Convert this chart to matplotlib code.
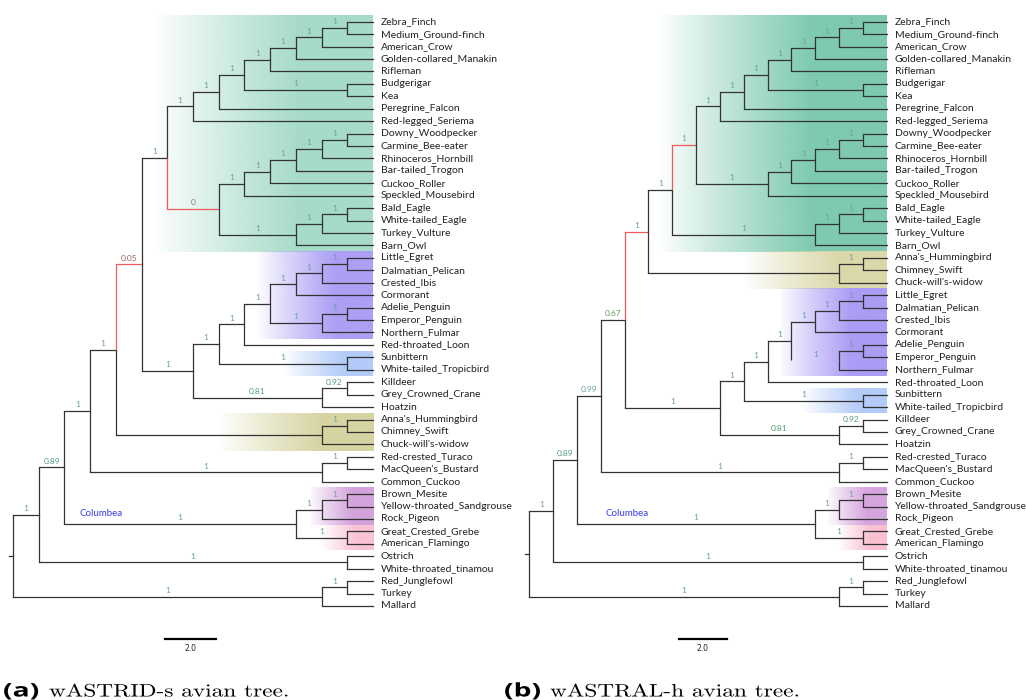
import numpy as np
import matplotlib
matplotlib.use("Agg")
import matplotlib.pyplot as plt
import matplotlib.transforms as mtransforms
from matplotlib.colors import LinearSegmentedColormap, to_rgb
from matplotlib.textpath import TextPath
from matplotlib.patches import PathPatch
from matplotlib.font_manager import FontProperties

# ---- trees (newick, internal labels = support) ----
aus = ("(((((((Zebra_Finch,Medium_Ground-finch)1,American_Crow)1,Golden-collared_Manakin)1,Rifleman)1,"
       "(Budgerigar,Kea)1)1,Peregrine_Falcon)1,Red-legged_Seriema)1")
cor = ("(((((Downy_Woodpecker,Carmine_Bee-eater)1,Rhinoceros_Hornbill)1,Bar-tailed_Trogon)1,"
       "Cuckoo_Roller)1,Speckled_Mousebird)1")
acc = "(((Bald_Eagle,White-tailed_Eagle)1,Turkey_Vulture)1,Barn_Owl)1"
aeq = ("(((((((Little_Egret,Dalmatian_Pelican)1,Crested_Ibis)1,Cormorant)1,"
       "((Adelie_Penguin,Emperor_Penguin)1,Northern_Fulmar)1)1,Red-throated_Loon)1,"
       "(Sunbittern,White-tailed_Tropicbird)1)1,((Killdeer,Grey_Crowned_Crane)0.92,Hoatzin)0.81)1")
stri = "((Anna's_Hummingbird,Chimney_Swift)1,Chuck-will's-widow)"
oti = "((Red-crested_Turaco,MacQueen's_Bustard)1,Common_Cuckoo)1"
col = ("(((Brown_Mesite,Yellow-throated_Sandgrouse)1,Rock_Pigeon)1,"
       "(Great_Crested_Grebe,American_Flamingo)1)1")
pal = "(Ostrich,White-throated_tinamou)1"
gal = "((Red_Junglefowl,Turkey)1,Mallard)1"

tree_a = "(((((((" + aus + ",(" + cor + "," + acc + ")0)1," + aeq + ")0.05," + stri + ")1," + oti + ")1," \
         + col + ")0.89," + pal + ")1," + gal + ");"
tree_b = "((((((((" + aus + "," + cor + ")1," + acc + ")1," + stri + ")1," + aeq + ")0.67," + oti + ")0.99," \
         + col + ")0.89," + pal + ")1," + gal + ");"

red_a = [("Downy_Woodpecker", "Barn_Owl"), ("Zebra_Finch", "Hoatzin")]
red_b = [("Zebra_Finch", "Speckled_Mousebird"), ("Zebra_Finch", "Chuck-will's-widow")]

clades_a = [("Zebra_Finch", "Barn_Owl", "#a6dbc8"),
            ("Little_Egret", "Northern_Fulmar", "#ad9ff5"),
            ("Sunbittern", "White-tailed_Tropicbird", "#b3cbf8"),
            ("Anna's_Hummingbird", "Chuck-will's-widow", "#d6d4a2"),
            ("Brown_Mesite", "Rock_Pigeon", "#d3a3dc"),
            ("Great_Crested_Grebe", "American_Flamingo", "#f9c3d4")]
clades_b = [("Zebra_Finch", "Barn_Owl", "#7ecab0"),
            ("Anna's_Hummingbird", "Chuck-will's-widow", "#dbd8aa"),
            ("Little_Egret", "Northern_Fulmar", "#ab9cf5"),
            ("Sunbittern", "White-tailed_Tropicbird", "#b3cbf8"),
            ("Brown_Mesite", "Rock_Pigeon", "#d6a5de"),
            ("Great_Crested_Grebe", "American_Flamingo", "#fac0d1")]
hidden_b = [("Adelie_Penguin", "Northern_Fulmar")]

sup_cmap = LinearSegmentedColormap.from_list(
    "sup", [(0, "#9a6e6e"), (0.1, "#a85a5a"), (0.7, "#5f9e55"), (0.9, "#4f9a80"), (1.0, "#68a0a4")])

LINE = "#333333"
RED = "#f05a5a"


def parse(s):
    pos = 0

    def node():
        nonlocal pos
        if s[pos] == "(":
            pos += 1
            kids = [node()]
            while s[pos] == ",":
                pos += 1
                kids.append(node())
            pos += 1
            j = pos
            while s[pos] not in ",);":
                pos += 1
            return {"kids": kids, "sup": s[j:pos], "name": None}
        j = pos
        while s[pos] not in ",);":
            pos += 1
        return {"kids": [], "sup": "", "name": s[j:pos]}
    return node()


def layout(root):
    leaves = []

    def walk(n, parent):
        n["parent"] = parent
        if not n["kids"]:
            n["y"] = len(leaves)
            n["h"] = 0
            n["leaves"] = [n["name"]]
            leaves.append(n["name"])
            return
        for k in n["kids"]:
            walk(k, n)
        n["h"] = max(k["h"] for k in n["kids"]) + 1
        n["y"] = (n["kids"][0]["y"] + n["kids"][-1]["y"]) / 2
        n["leaves"] = sum((k["leaves"] for k in n["kids"]), [])
    walk(root, None)
    H = root["h"]
    nodes = []

    def setx(n):
        n["x"] = H - n["h"]
        nodes.append(n)
        for k in n["kids"]:
            setx(k)
    setx(root)
    return nodes, leaves, H


def mrca(nodes, a, b):
    best = None
    for n in nodes:
        if a in n["leaves"] and b in n["leaves"]:
            if best is None or len(n["leaves"]) < len(best["leaves"]):
                best = n
    return best


def draw(fig, rect, newick, reds, clades, hidden, bar_x, col_x):
    root = parse(newick)
    nodes, leaves, H = layout(root)
    ax = fig.add_axes(rect)
    ax.set_axis_off()

    # clade highlights, gradient from transparent to colour
    for a, b, c in clades:
        n = mrca(nodes, a, b)
        x0 = (n["parent"]["x"] + n["x"]) / 2
        t = np.linspace(0, 1, 256)
        img = np.zeros((1, 256, 4))
        img[0, :, :3] = to_rgb(c)
        img[0, :, 3] = np.clip(t * 1.5, 0, 1) ** 0.9
        ax.imshow(img, extent=(x0, H, leaves.index(b) + 0.5, leaves.index(a) - 0.5),
                  aspect="auto", interpolation="bilinear", zorder=0, clip_on=False)

    red_nodes = [id(mrca(nodes, a, b)) for a, b in reds]
    hid_nodes = [id(mrca(nodes, a, b)) for a, b in hidden]
    for n in nodes:
        p = n["parent"]
        if p is None:
            continue
        c = RED if id(n) in red_nodes else LINE
        ax.plot([p["x"], p["x"]], [p["y"], n["y"]], color=c, lw=0.9, zorder=2,
                solid_capstyle="butt", clip_on=False)
        if id(n) not in hid_nodes:
            ax.plot([p["x"], n["x"]], [n["y"], n["y"]], color=c, lw=0.9, zorder=2,
                    solid_capstyle="projecting", clip_on=False)
        if n["sup"]:
            v = float(n["sup"])
            ax.text((p["x"] + n["x"]) / 2, n["y"] - 0.22, n["sup"], fontsize=6,
                    family="Lato", color=sup_cmap(v), ha="center", va="bottom", zorder=3)
    ax.plot([root["x"] - 0.16, root["x"]], [root["y"], root["y"]], color=LINE, lw=0.9,
            clip_on=False)

    tr = mtransforms.offset_copy(ax.transData, fig=fig, x=8, y=0, units="dots")
    for i, name in enumerate(leaves):
        ax.text(H, i, name, transform=tr, fontsize=7.5, family="Lato", color="#222222",
                ha="left", va="center")

    ax.text(col_x, 39.55, "Columbea", fontsize=7, family="Lato", color="#3b3bf0",
            ha="left", va="center")

    ax.plot([bar_x, bar_x + 2], [49.65, 49.65], color="black", lw=1.6, clip_on=False)
    ax.text(bar_x + 1, 50.4, "2.0", fontsize=5.5, family="DejaVu Sans", color="#222222",
            ha="center", va="center")

    ax.set_xlim(0, H)
    ax.set_ylim(len(leaves) - 1, 0)
    return ax


W, Hpx = 1026, 700
fig = plt.figure(figsize=(W / 100, Hpx / 100), dpi=100)
y_top, y_bot = 21.7, 606.0
bottom = 1 - y_bot / Hpx
height = (y_bot - y_top) / Hpx

draw(fig, [13 / W, bottom, 360 / W, height], tree_a, red_a, clades_a, [], 5.91, 2.6)
draw(fig, [529.3 / W, bottom, 357.4 / W, height], tree_b, red_b, clades_b, hidden_b, 6.28, 3.18)

# captions: glyph outlines, widened to the reference's wide caption font
bold = FontProperties(family="Open Sans", weight="bold")
serif = FontProperties(family="cmr10")
base = Hpx - 696.5
px = 100 / 72


def caption(x0, text, prop, size, sx):
    tp = TextPath((0, 0), text, size=size, prop=prop)
    tr = mtransforms.Affine2D().scale(sx * px, px).translate(x0, base)
    fig.add_artist(PathPatch(tp, transform=tr, facecolor="black", lw=0))


def fit(text, prop, size, width_px):
    tp = TextPath((0, 0), text, size=size, prop=prop)
    return width_px / (tp.get_extents().width * px)


sx_lab = fit("(a)", bold, 13.5, 34)
sx_txt = fit("wASTRID-s avian tree.", serif, 13, 238)
caption(3, "(a)", bold, 13.5, sx_lab)
caption(49, "wASTRID-s avian tree.", serif, 13, sx_txt)
caption(504, "(b)", bold, 13.5, sx_lab)
caption(550, "wASTRAL-h avian tree.", serif, 13, sx_txt)

fig.savefig("out.png", dpi=100)
